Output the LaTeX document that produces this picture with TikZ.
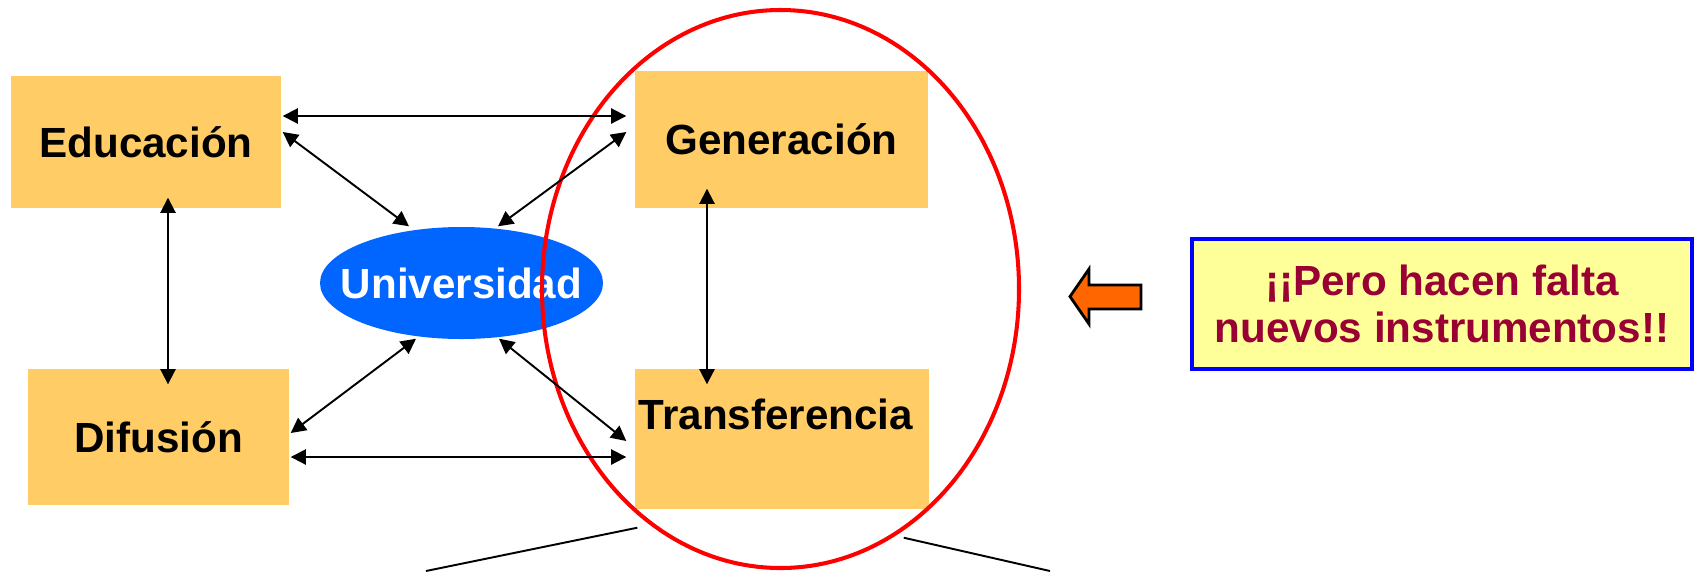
\documentclass[tikz,border=0pt]{standalone}
\usepackage{fontspec}
\setmainfont{Liberation Sans}
\usetikzlibrary{positioning, shapes.geometric, arrows.meta}

\definecolor{boxfill}{HTML}{FFCC66}
\definecolor{unifill}{HTML}{0066FF}
\definecolor{notefill}{HTML}{FFFF99}
\definecolor{notetext}{HTML}{990033}
\definecolor{pointer}{HTML}{FF6600}

\begin{document}
\begin{tikzpicture}[
    area/.style={rectangle, fill=boxfill, inner sep=0pt,
        font=\fontsize{12}{14}\selectfont\bfseries},
    link/.style={{Triangle[length=4.3pt,width=4.3pt]}-{Triangle[length=4.3pt,width=4.3pt]},
        line width=0.55pt},
    callout/.style={line width=0.55pt}
]
\useasboundingbox (0,0) rectangle (16.95,-5.71);

\node[area, minimum width=2.70cm, minimum height=1.32cm] (edu) at (1.46,-1.42) {Educación};
\node[area, minimum width=2.61cm, minimum height=1.36cm] (dif) at (1.585,-4.37) {Difusión};
\node[area, minimum width=2.93cm, minimum height=1.37cm] (gen) at (7.815,-1.395) {Generación};
\node[area, minimum width=2.94cm, minimum height=1.40cm,
    text height=0.32cm, text depth=0.52cm] (tra) at (7.82,-4.39)
    {\makebox[0pt]{\hspace*{-0.12cm}Transferencia}};

\node[ellipse, fill=unifill, text=white, inner sep=0pt,
    minimum width=2.83cm, minimum height=1.12cm,
    font=\fontsize{12}{14}\selectfont\bfseries] (uni) at (4.615,-2.83)
    {\makebox[0pt]{Universidad}};

% circle round generation and transfer
\draw[red, line width=1.15pt] (7.805,-2.89) ellipse [x radius=2.385, y radius=2.79];

\draw[link] ([shift={(0.01,0.26)}]edu.east) -- ([shift={(-0.08,0.235)}]gen.west);
\draw[link] ([shift={(0.01,0.10)}]edu.east) -- ([shift={(-0.525,0)}]uni.north);
\draw[link] ([shift={(-0.08,0.075)}]gen.west) -- ([shift={(0.365,0)}]uni.north);
\draw[link] ([shift={(0.22,0.11)}]edu.south) -- ([shift={(0.095,-0.16)}]dif.north);
\draw[link] ([shift={(0.01,0.04)}]dif.east) -- ([shift={(-0.455,0.01)}]uni.south);
\draw[link] ([shift={(-0.08,-0.02)}]tra.west) -- ([shift={(0.375,0.01)}]uni.south);
\draw[link] ([shift={(0.01,-0.20)}]dif.east) -- ([shift={(-0.08,-0.18)}]tra.west);
\draw[link] ([shift={(-0.745,0.20)}]gen.south) -- ([shift={(-0.75,-0.16)}]tra.north);

\coordinate (cl) at (4.26,-5.71);
\coordinate (cr) at (10.50,-5.71);
\draw[callout] ([shift={(0.03,-0.18)}]tra.south west) -- (cl);
\draw[callout] ([shift={(-0.26,-0.28)}]tra.south east) -- (cr);

\node[rectangle, draw=blue, line width=1.2pt, fill=notefill, text=notetext,
    minimum width=5.00cm, minimum height=1.30cm, inner sep=0pt, align=center,
    font=\fontsize{12}{13.2}\selectfont\bfseries] (note) at (14.42,-3.04)
    {¡¡Pero hacen falta\\nuevos instrumentos!!};

\draw[fill=pointer, line width=0.8pt]
    (10.70,-2.965) -- (10.89,-2.69) -- (10.89,-2.85) -- (11.41,-2.85)
    -- (11.41,-3.09) -- (10.89,-3.09) -- (10.89,-3.24) -- cycle;
\end{tikzpicture}
\end{document}
